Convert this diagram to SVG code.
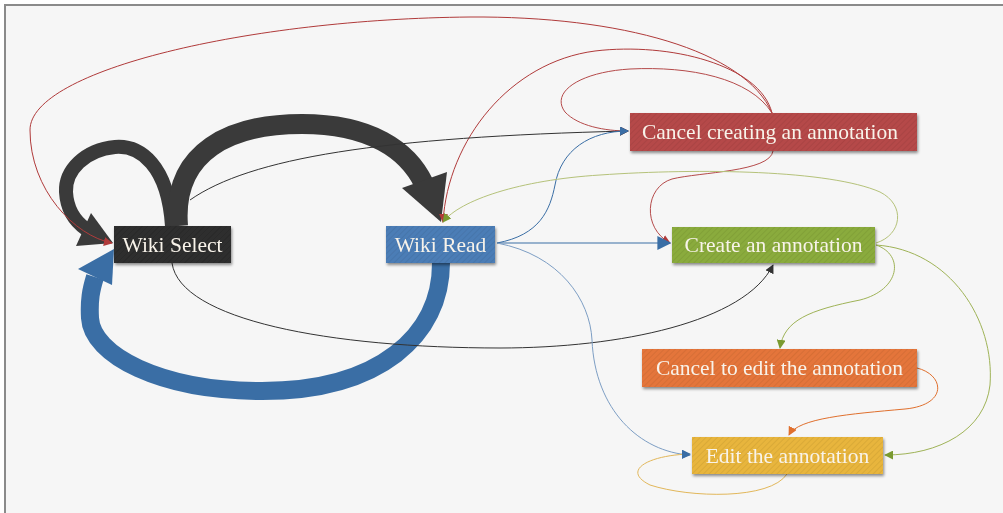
<svg xmlns="http://www.w3.org/2000/svg" width="1003" height="513" viewBox="0 0 1003 513">
<defs>
<style>
.node-text{font-family:"Liberation Serif","DejaVu Serif",serif;font-size:21.5px;fill:#f8f3ea}
.thin{fill:none;stroke-width:1}
</style>
<pattern id="hatch" width="4" height="4" patternUnits="userSpaceOnUse" patternTransform="rotate(45)">
<line x1="0" y1="0" x2="0" y2="4" stroke="#000" stroke-width="1" opacity="0.12"/>
</pattern>
<filter id="sh" x="-10%" y="-20%" width="130%" height="160%">
<feGaussianBlur in="SourceAlpha" stdDeviation="1.5"/>
<feOffset dx="1" dy="2" result="b"/>
<feComponentTransfer><feFuncA type="linear" slope="0.45"/></feComponentTransfer>
<feMerge><feMergeNode/><feMergeNode in="SourceGraphic"/></feMerge>
</filter>
<marker id="mRed" viewBox="0 0 10 10" refX="9" refY="5" markerWidth="9" markerHeight="9" markerUnits="userSpaceOnUse" orient="auto"><path d="M0,0 L10,5 L0,10 z" fill="#b03a3a"/></marker>
<marker id="mDark" viewBox="0 0 10 10" refX="9" refY="5" markerWidth="9" markerHeight="9" markerUnits="userSpaceOnUse" orient="auto"><path d="M0,0 L10,5 L0,10 z" fill="#333"/></marker>
<marker id="mBlue" viewBox="0 0 10 10" refX="9" refY="5" markerWidth="9" markerHeight="9" markerUnits="userSpaceOnUse" orient="auto"><path d="M0,0 L10,5 L0,10 z" fill="#3a6ea5"/></marker>
<marker id="mBlueL" viewBox="0 0 10 10" refX="9" refY="5" markerWidth="14" markerHeight="14" markerUnits="userSpaceOnUse" orient="auto"><path d="M0,0 L10,5 L0,10 z" fill="#3a6ea5"/></marker>
<marker id="mGreen" viewBox="0 0 10 10" refX="9" refY="5" markerWidth="9" markerHeight="9" markerUnits="userSpaceOnUse" orient="auto"><path d="M0,0 L10,5 L0,10 z" fill="#7a9a30"/></marker>
<marker id="mOrange" viewBox="0 0 10 10" refX="9" refY="5" markerWidth="9" markerHeight="9" markerUnits="userSpaceOnUse" orient="auto"><path d="M0,0 L10,5 L0,10 z" fill="#e0702e"/></marker>
</defs>
<rect x="0" y="0" width="1003" height="513" fill="#ffffff"/>
<rect x="5" y="5" width="1010" height="520" fill="#f6f6f6" stroke="#8a8a8a" stroke-width="2"/>

<g id="connectors">
<path d="M172,226 C168,165 140,145 115,147 C85,150 65,170 66,192 C67,210 76,222 86,229" fill="none" stroke="#3a3a3a" stroke-width="14"/>
<polygon points="113,243 91,213 76,246" fill="#3a3a3a"/>
<path d="M178,226 C172,150 232,124 302,124 C370,124 408,150 424,184" fill="none" stroke="#3a3a3a" stroke-width="20"/>
<polygon points="441,222 402,188 447,172" fill="#3a3a3a"/>
<path d="M441,263 C441,335 380,391 262,391 C160,391 92,355 90,318 C89,300 91,290 95,277" fill="none" stroke="#3a6ea5" stroke-width="18"/>
<polygon points="114,249 78,269 112,285" fill="#3a6ea5"/>

<path class="thin" d="M772,113 C745,50 620,16 470,17 C250,19 30,70 30,130 C30,190 75,236 112,243" stroke="#b03a3a" stroke-width="1.5" marker-end="url(#mRed)"/>
<path class="thin" d="M772,113 C760,65 670,42 595,51 C510,62 448,140 443,222" stroke="#b03a3a" stroke-width="1.8" marker-end="url(#mRed)"/>
<path class="thin" d="M772,113 C750,78 690,66 630,69 C580,72 550,92 565,112 C578,126 605,131 628,131" stroke="#b54a4a" marker-end="url(#mRed)"/>
<path class="thin" d="M773,151 C770,172 700,172 672,179 C645,187 642,228 670,243" stroke="#b54a4a" marker-end="url(#mRed)"/>

<path class="thin" d="M190,200 C250,158 380,137 628,131" stroke="#333" stroke-width="1.5" marker-end="url(#mDark)"/>
<path class="thin" d="M172,263 C180,320 330,348 500,348 C620,348 745,322 773,265" stroke="#333" stroke-width="2" marker-end="url(#mDark)"/>

<path class="thin" d="M497,243 C540,235 550,210 555,185 C561,150 590,131 628,131" stroke="#3a6ea5" stroke-width="3" marker-end="url(#mBlue)"/>
<path class="thin" d="M497,243 L670,243" stroke="#3a6ea5" stroke-width="4" marker-end="url(#mBlueL)"/>
<path class="thin" d="M497,243 C560,255 590,300 592,340 C595,410 640,452 690,455" stroke="#7d9ec4" marker-end="url(#mBlue)"/>

<path class="thin" d="M876,243 C902,235 906,205 880,192 C830,170 700,168 600,175 C520,180 460,200 443,222" stroke="#b5c27a" marker-end="url(#mGreen)"/>
<path class="thin" d="M876,245 C905,255 900,290 860,300 C810,310 784,320 780,348" stroke="#9fb357" marker-end="url(#mGreen)"/>
<path class="thin" d="M876,245 C950,250 995,320 990,385 C985,430 940,455 885,455" stroke="#9fb357" marker-end="url(#mGreen)"/>
<path class="thin" d="M917,368 C945,375 948,405 905,409 C850,414 798,418 789,435" stroke="#e0702e" marker-end="url(#mOrange)"/>
<path class="thin" d="M787,474 C770,500 690,498 650,485 C620,470 650,455 690,454" stroke="#e2b75a" marker-end="url(#mBlue)"/>
</g>

<g id="node-wiki-select" filter="url(#sh)">
<rect x="114" y="226" width="117" height="37" fill="#2e2e2e"/>
<rect x="114" y="226" width="117" height="37" fill="url(#hatch)"/>
<text class="node-text" x="172.5" y="252" text-anchor="middle">Wiki Select</text>
</g>
<g id="node-wiki-read" filter="url(#sh)">
<rect x="386" y="226" width="109" height="37" fill="#4b7db6"/>
<rect x="386" y="226" width="109" height="37" fill="url(#hatch)"/>
<text class="node-text" x="440.5" y="252" text-anchor="middle">Wiki Read</text>
</g>
<g id="node-cancel-creating" filter="url(#sh)">
<rect x="630" y="113" width="287" height="38" fill="#b54848"/>
<rect x="630" y="113" width="287" height="38" fill="url(#hatch)"/>
<text class="node-text" x="770" y="139" text-anchor="middle">Cancel creating an annotation</text>
</g>
<g id="node-create" filter="url(#sh)">
<rect x="672" y="227" width="203" height="36" fill="#8aab3c"/>
<rect x="672" y="227" width="203" height="36" fill="url(#hatch)"/>
<text class="node-text" x="773.5" y="252" text-anchor="middle">Create an annotation</text>
</g>
<g id="node-cancel-edit" filter="url(#sh)">
<rect x="642" y="349" width="275" height="38" fill="#e4753a"/>
<rect x="642" y="349" width="275" height="38" fill="url(#hatch)"/>
<text class="node-text" x="779.5" y="375" text-anchor="middle">Cancel to edit the annotation</text>
</g>
<g id="node-edit" filter="url(#sh)">
<rect x="692" y="437" width="191" height="37" fill="#e8b53c"/>
<rect x="692" y="437" width="191" height="37" fill="url(#hatch)"/>
<text class="node-text" x="787.5" y="463" text-anchor="middle">Edit the annotation</text>
</g>
</svg>
